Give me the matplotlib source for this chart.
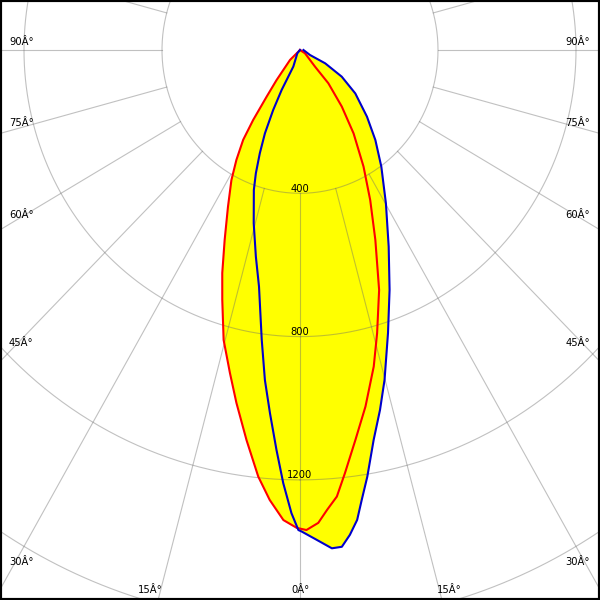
import numpy as np
import matplotlib
matplotlib.use('Agg')
import matplotlib.pyplot as plt

# ---- data (gamma angle in degrees, negative = left half; intensity in cd) ----
red_angles = [-50, -46.2, -39.0, -36.6, -34.8, -33.3, -31.0, -28.7, -25.5, -22.4,
              -19.9, -17.9, -15.3, -12.7, -10.6, -8.1, -5.8, -4.0, -2.1, -0.4,
              0.8, 2.3, 3.5, 4.9, 6.3, 8.4, 10.8, 13.6, 15.8, 18.9,
              22.4, 25.9, 29.5, 33.7, 37.5, 41.5, 43.1, 57.6, 62]
red_cd = [0, 40, 108, 162, 238, 300, 358, 414, 485, 573,
          662, 733, 839, 924, 1002, 1100, 1197, 1259, 1313, 1334,
          1340, 1321, 1286, 1251, 1188, 1100, 1013, 909, 821, 708,
          573, 466, 374, 280, 199, 124, 64, 17, 0]

blue_angles = [-90, -40, -22.7, -25.5, -24.9, -23.6, -22.0, -20.4, -18.9, -15.5,
               -12.5, -10.2, -7.8, -6.3, -4.9, -3.5, -2.3, -1.1, -0.2, 0.2,
               1.2, 1.8, 3.8, 5.0, 6.1, 7.2, 8.1, 9.3, 11.1, 13.0,
               14.9, 17.9, 21.2, 25.1, 30.2, 35.9, 41.0, 46.2, 52.9, 58.4,
               63.0, 64.3, 90]
blue_cd = [0, 12, 50, 124, 185, 254, 311, 367, 413, 502,
           591, 671, 817, 927, 1018, 1118, 1210, 1293, 1340, 1344,
           1357, 1365, 1394, 1392, 1361, 1322, 1269, 1207, 1109, 1031,
           953, 830, 718, 606, 495, 402, 333, 269, 201, 142,
           82, 32, 10]

circle_values = [400, 800, 1200, 1600, 2000, 2400]
circle_labels = ["400", "800", "1200"]
radial_step = 15

side_labels = ["90Â°", "75Â°", "60Â°", "45Â°", "30Â°"]
bottom_labels = ["15Â°", "0Â°", "15Â°"]

# ---- figure ----
fig = plt.figure(figsize=(6, 6), dpi=100)
ax = fig.add_axes([0, 0, 1, 1])
sx = 0.345      # px per cd horizontally
sy = 0.35825    # px per cd vertically
cx, cy = 300, 50
ax.set_xlim(-cx / sx, (600 - cx) / sx)
ax.set_ylim(-(600 - cy) / sy, cy / sy)
ax.set_xticks([]); ax.set_yticks([])
for s in ax.spines.values():
    s.set_color('black'); s.set_linewidth(3)

def xy(angles, vals):
    a = np.radians(np.asarray(angles, float))
    v = np.asarray(vals, float)
    return v * np.sin(a), -v * np.cos(a)

rx, ry = xy(red_angles, red_cd)
bx, by = xy(blue_angles, blue_cd)

ax.fill(rx, ry, color='#ffff00', lw=0, zorder=1)
ax.fill(bx, by, color='#ffff00', lw=0, zorder=1)

gcol = (0.42, 0.42, 0.42)
t = np.linspace(0, 2 * np.pi, 720)
for r in circle_values:
    ax.plot(r * np.sin(t), -r * np.cos(t), color=gcol, alpha=0.42, lw=0.8, zorder=2)
for a in range(0, 360, radial_step):
    ar = np.radians(a)
    ax.plot([400 * np.sin(ar), 4000 * np.sin(ar)], [-400 * np.cos(ar), -4000 * np.cos(ar)],
            color=gcol, alpha=0.42, lw=0.8, zorder=2)

ax.plot(rx, ry, color='#ff0000', lw=1.5, zorder=3)
ax.plot(bx, by, color='#0000cc', lw=1.5, zorder=3)

fs = 7.2
for lab, r in zip(circle_labels, circle_values):
    ax.annotate(lab, (0, -r), xytext=(0, 1.2), textcoords='offset points',
                ha='center', va='baseline', fontsize=fs, color='black', zorder=4)

side_y = [45, 126, 218, 346, 565]
for lab, yp in zip(side_labels, side_y):
    ax.text(9 / 600, 1 - yp / 600, lab, transform=ax.transAxes, ha='left',
            va='baseline', fontsize=fs, zorder=4)
    ax.text(590 / 600, 1 - yp / 600, lab, transform=ax.transAxes, ha='right',
            va='baseline', fontsize=fs, zorder=4)

bottom_x = [150, 300, 449]
for lab, xp in zip(bottom_labels, bottom_x):
    ax.text(xp / 600, 1 - 593 / 600, lab, transform=ax.transAxes, ha='center',
            va='baseline', fontsize=fs, zorder=4)

fig.savefig('out.png', dpi=100)
